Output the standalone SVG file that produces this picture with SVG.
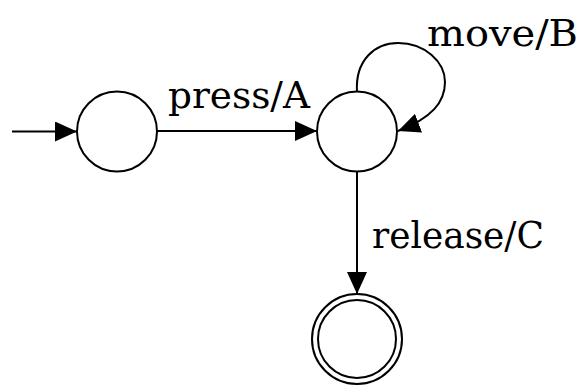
<svg xmlns="http://www.w3.org/2000/svg" width="582" height="389" viewBox="0 0 582 389">
<style>
.st{fill:#fff;stroke:#000;stroke-width:2}
.ed{fill:none;stroke:#000;stroke-width:2}
.lb{font-family:"DejaVu Serif",serif;font-size:37px;fill:#000}
</style>
<defs>
<marker id="ah" markerUnits="userSpaceOnUse" markerWidth="22" markerHeight="20" refX="22" refY="10" orient="auto" viewBox="0 0 22 20">
<path d="M0,0 L22,10 L0,20 z" fill="#000"/>
</marker>
</defs>
<g id="s0"><circle class="st" cx="117" cy="131.5" r="40"/></g>
<g id="s1"><circle class="st" cx="357" cy="131.5" r="40"/></g>
<g id="s2"><circle class="st" cx="357" cy="339" r="45"/><circle class="st" cx="357" cy="339" r="39"/></g>
<g id="edges">
<line class="ed" x1="12" y1="131.5" x2="77" y2="131.5" marker-end="url(#ah)"/>
<line class="ed" x1="157" y1="131" x2="317" y2="131" marker-end="url(#ah)"/>
<path class="ed" d="M357,92 C355,60 375,43 398,43 C425,43 445,62 445,82 C445,102 432,118 398,131" marker-end="url(#ah)"/>
<line class="ed" x1="357" y1="172" x2="357" y2="294" marker-end="url(#ah)"/>
</g>
<g id="labels">
<text class="lb" x="168" y="108" textLength="142" lengthAdjust="spacingAndGlyphs">press/A</text>
<text class="lb" x="427" y="46" textLength="151" lengthAdjust="spacingAndGlyphs">move/B</text>
<text class="lb" x="372" y="248" textLength="172" lengthAdjust="spacingAndGlyphs">release/C</text>
</g>
</svg>
